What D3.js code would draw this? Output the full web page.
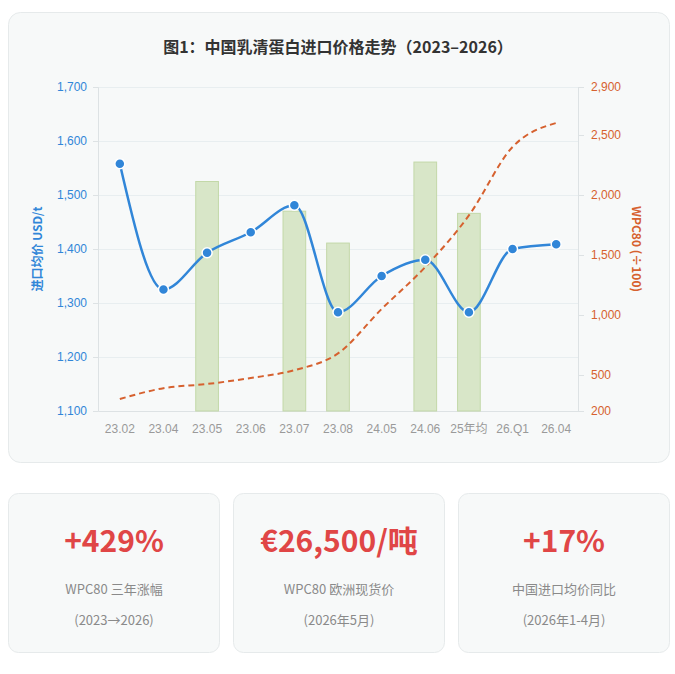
<!DOCTYPE html>
<html lang="zh">
<head>
<meta charset="utf-8">
<title>中国乳清蛋白进口价格走势</title>
<script src="https://d3js.org/d3.v7.min.js"></script>
<style>
  body { margin: 0; background: #ffffff; font-family: "Noto Sans CJK SC", "Noto Sans", sans-serif; }
</style>
</head>
<body>
<script>
// data
var categories = ["23.02", "23.04", "23.05", "23.06", "23.07", "23.08", "24.05", "24.06", "25年均", "26.Q1", "26.04"];
var importPrice = [1558, 1325, 1393, 1431, 1481, 1283, 1350, 1380, 1283, 1400, 1409];
var wpc80 = [300, 390, 425, 475, 540, 680, 1050, 1400, 1830, 2400, 2600];
var barCats = ["23.05", "23.07", "23.08", "24.06", "25年均"];
var barValues = [1525, 1470, 1411, 1561, 1466];
var leftTicks = [1100, 1200, 1300, 1400, 1500, 1600, 1700];
var rightTicks = [200, 500, 1000, 1500, 2000, 2500, 2900];
var cardValues = ["+429%", "€26,500/吨", "+17%"];
var cardLabels = ["WPC80 三年涨幅", "WPC80 欧洲现货价", "中国进口均价同比"];
var cardNotes = ["(2023→2026)", "(2026年5月)", "(2026年1-4月)"];

var W = 675, H = 674;
var blue = "#3186d8", orange = "#d6612f", red = "#e04646";
var font = "'Noto Sans CJK SC', 'Noto Sans', sans-serif";
var tickFont = "'Liberation Sans', 'Noto Sans CJK SC', sans-serif";

var svg = d3.select("body").append("svg")
    .attr("width", W)
    .attr("height", H);

// chart card
svg.append("rect")
    .attr("x", 8.5).attr("y", 12.5)
    .attr("width", 661).attr("height", 450)
    .attr("rx", 12)
    .attr("fill", "#f7f9f9")
    .attr("stroke", "#e6eaeb");

svg.append("text")
    .attr("x", 338).attr("y", 53)
    .attr("text-anchor", "middle")
    .attr("font-family", font)
    .attr("font-size", 16)
    .attr("font-weight", "bold")
    .attr("fill", "#333")
    .text("图1：中国乳清蛋白进口价格走势（2023–2026）");

var pLeft = 98, pRight = 578, pTop = 87, pBottom = 411;

var x = d3.scaleBand().domain(categories).range([pLeft, pRight]).padding(0);
var yL = d3.scaleLinear().domain([1100, 1700]).range([pBottom, pTop]);
var yR = d3.scaleLinear().domain([200, 2900]).range([pBottom, pTop]);

// grid
svg.append("g").selectAll("line")
    .data(leftTicks.slice(1))
    .join("line")
    .attr("x1", pLeft).attr("x2", pRight)
    .attr("y1", function (d) { return Math.round(yL(d)) + 0.5; })
    .attr("y2", function (d) { return Math.round(yL(d)) + 0.5; })
    .attr("stroke", "#e8eef0");

// axes
var axL = svg.append("g")
    .attr("transform", "translate(" + pLeft + ",0)")
    .call(d3.axisLeft(yL).tickValues(leftTicks).tickSize(5).tickPadding(6).tickFormat(d3.format(",")));
axL.select(".domain").attr("stroke", "#dde2e4");
axL.selectAll(".tick line").attr("stroke", "#dde2e4");
axL.selectAll("text").attr("fill", blue).attr("font-family", tickFont).attr("font-size", 12);

var axR = svg.append("g")
    .attr("transform", "translate(" + pRight + ",0)")
    .call(d3.axisRight(yR).tickValues(rightTicks).tickSize(6).tickPadding(7).tickFormat(d3.format(",")));
axR.select(".domain").attr("stroke", "#dde2e4");
axR.selectAll(".tick line").attr("stroke", "#dde2e4");
axR.selectAll("text").attr("fill", orange).attr("font-family", tickFont).attr("font-size", 12);

var axX = svg.append("g")
    .attr("transform", "translate(0," + pBottom + ")")
    .call(d3.axisBottom(x).tickSize(0).tickPadding(13));
axX.select(".domain").attr("stroke", "#dde2e4");
axX.selectAll("text").attr("fill", "#9a9a9a").attr("font-family", tickFont).attr("font-size", 12);

// axis titles
svg.append("text")
    .attr("transform", "translate(42,249) rotate(-90)")
    .attr("text-anchor", "middle")
    .attr("font-family", font).attr("font-size", 12).attr("font-weight", "bold")
    .attr("fill", blue)
    .text("进口均价 USD/t");

svg.append("text")
    .attr("transform", "translate(632,249) rotate(90)")
    .attr("text-anchor", "middle")
    .attr("font-family", font).attr("font-size", 12).attr("font-weight", "bold")
    .attr("fill", orange)
    .text("WPC80 (÷100)");

// bars
var bw = x.bandwidth() * 0.52;
svg.append("g").selectAll("rect")
    .data(barCats)
    .join("rect")
    .attr("x", function (d) { return x(d) + x.bandwidth() / 2 - bw / 2; })
    .attr("y", function (d, i) { return yL(barValues[i]); })
    .attr("width", bw)
    .attr("height", function (d, i) { return pBottom - yL(barValues[i]); })
    .attr("fill", "#d8e6c8")
    .attr("stroke", "#c3d8a8")
    .attr("stroke-width", 1);

var cx = function (d, i) { return x(categories[i]) + x.bandwidth() / 2; };

// wpc80 dashed line
svg.append("path")
    .datum(wpc80)
    .attr("fill", "none")
    .attr("stroke", orange)
    .attr("stroke-width", 2)
    .attr("stroke-dasharray", "6,4")
    .attr("d", d3.line().x(cx).y(function (d) { return yR(d); }).curve(d3.curveMonotoneX));

// import price line
svg.append("path")
    .datum(importPrice)
    .attr("fill", "none")
    .attr("stroke", blue)
    .attr("stroke-width", 2.5)
    .attr("d", d3.line().x(cx).y(function (d) { return yL(d); }).curve(d3.curveMonotoneX));

svg.append("g").selectAll("circle")
    .data(importPrice)
    .join("circle")
    .attr("cx", cx)
    .attr("cy", function (d) { return yL(d); })
    .attr("r", 5)
    .attr("fill", blue)
    .attr("stroke", "#fff")
    .attr("stroke-width", 1.5);

// stat cards
var cardX = [8.5, 233.5, 458.5];
var cards = svg.append("g").selectAll("g")
    .data(cardValues)
    .join("g")
    .attr("transform", function (d, i) { return "translate(" + cardX[i] + ",493.5)"; });

cards.append("rect")
    .attr("width", 211).attr("height", 159)
    .attr("rx", 10)
    .attr("fill", "#f7f9f9")
    .attr("stroke", "#e6eaeb");

cards.append("text")
    .attr("x", 105.5).attr("y", 58)
    .attr("text-anchor", "middle")
    .attr("font-family", font).attr("font-size", 30).attr("font-weight", "bold")
    .attr("fill", red)
    .text(function (d) { return d; });

cards.append("text")
    .attr("x", 105.5).attr("y", 100)
    .attr("text-anchor", "middle")
    .attr("font-family", font).attr("font-size", 13)
    .attr("fill", "#8a8a8a")
    .text(function (d, i) { return cardLabels[i]; });

cards.append("text")
    .attr("x", 105.5).attr("y", 131)
    .attr("text-anchor", "middle")
    .attr("font-family", font).attr("font-size", 13)
    .attr("fill", "#8a8a8a")
    .text(function (d, i) { return cardNotes[i]; });
</script>
</body>
</html>
